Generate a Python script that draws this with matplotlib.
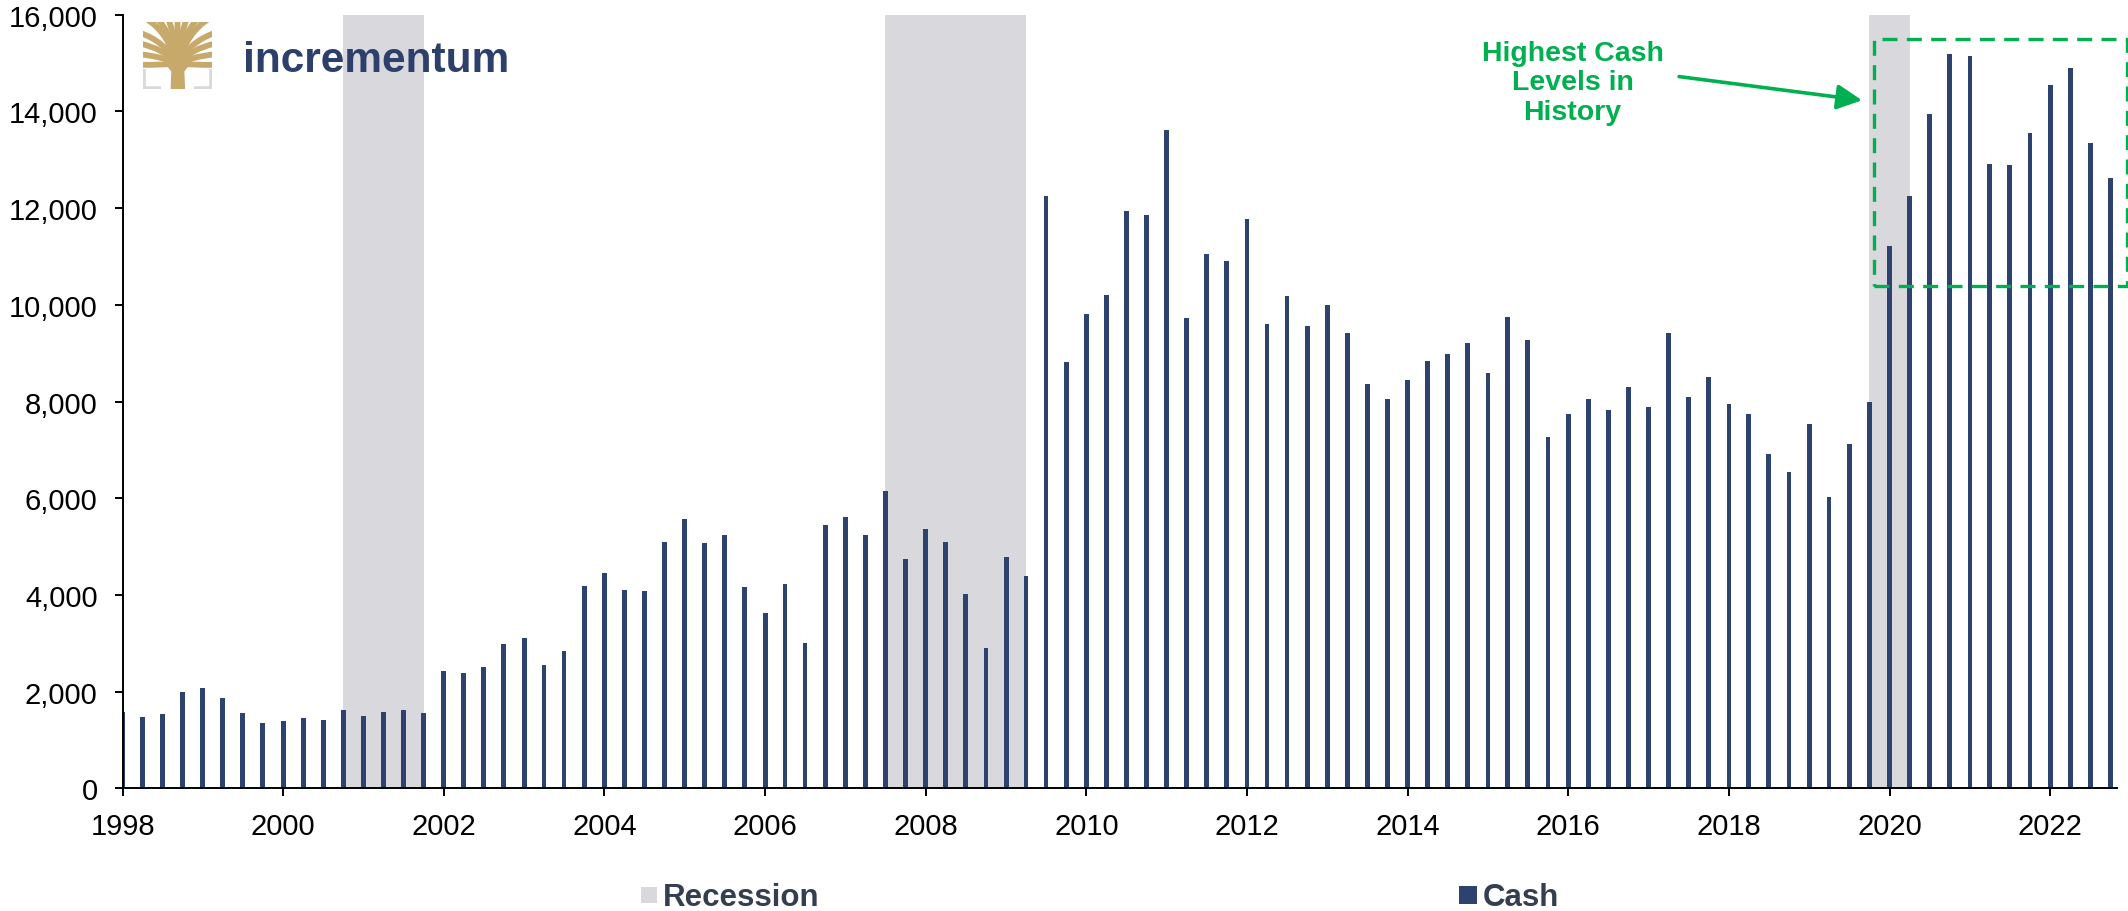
import pandas as pd
import matplotlib
matplotlib.use('Agg')
from matplotlib import pyplot as plt
import matplotlib.dates as mdates
from matplotlib.patches import Rectangle, Polygon
from matplotlib.path import Path
from matplotlib.patches import PathPatch
from matplotlib.ticker import FuncFormatter, MultipleLocator


# quarterly cash holdings, 1998Q1 .. 2022Q4
quarters = pd.date_range('1998-01-01', '2022-10-01', freq='QS')
cash = [1570, 1480, 1540, 2000,
        2080, 1860, 1550, 1350,
        1400, 1460, 1410, 1610,
        1490, 1570, 1630, 1550,
        2420, 2390, 2500, 2980,
        3100, 2550, 2840, 4180,
        4460, 4100, 4080, 5100,
        5570, 5070, 5240, 4160,
        3630, 4220, 3010, 5450,
        5610, 5230, 6150, 4750,
        5360, 5100, 4020, 2900,
        4790, 4400, 12260, 8820,
        9820, 10210, 11940, 11860,
        13610, 9720, 11060, 10900,
        11780, 9610, 10180, 9570,
        10000, 9420, 8370, 8060,
        8450, 8840, 8990, 9200,
        8590, 9740, 9280, 7260,
        7740, 8060, 7820, 8290,
        7880, 9410, 8100, 8500,
        7940, 7740, 6910, 6550,
        7540, 6030, 7120, 7980,
        11210, 12250, 13940, 15180,
        15140, 12910, 12900, 13550,
        14550, 14900, 13340, 12630]

recessions = [('2000-10-01', '2001-10-01'),
              ('2007-07-01', '2009-04-01'),
              ('2019-10-01', '2020-04-01')]

legend_labels = ['Recession', 'Cash']

navy = '#2E4270'
grey = '#D9D8DC'
green = '#00B050'
gold = '#C6A96B'
legend_col = '#333F50'

plt.rcParams['font.family'] = ['Liberation Sans', 'DejaVu Sans']

W, H = 2128, 912
fig = plt.figure(figsize=(W / 100, H / 100), dpi=100)
ax = fig.add_axes([0.0576, 0.1345, 0.9372, 0.8483])

for start, end in recessions:
    ax.axvspan(pd.Timestamp(start), pd.Timestamp(end), color=grey, lw=0, zorder=0)

ax.bar(quarters, cash, width=22, color=navy, zorder=2)

ax.set_xlim(pd.Timestamp('1998-01-01'), pd.Timestamp('2022-10-31'))
ax.set_ylim(0, 16000)
ax.yaxis.set_major_locator(MultipleLocator(2000))
ax.yaxis.set_major_formatter(FuncFormatter(lambda v, p: f'{v:,.0f}'))
ax.xaxis.set_major_locator(mdates.YearLocator(2))
ax.xaxis.set_major_formatter(mdates.DateFormatter('%Y'))

ax.spines['top'].set_visible(False)
ax.spines['right'].set_visible(False)
ax.spines['left'].set_linewidth(1.4)
ax.spines['bottom'].set_linewidth(1.4)
ax.spines['bottom'].set_zorder(4)
ax.tick_params(axis='both', labelsize=21, width=1.4, length=6)
ax.tick_params(axis='y', pad=12)
ax.tick_params(axis='x', pad=11)

# callout for the post-2020 cash pile
x0 = mdates.date2num(pd.Timestamp('2019-10-23'))
x1 = mdates.date2num(pd.Timestamp('2022-12-14'))
box = Rectangle((x0, 10380), x1 - x0, 15500 - 10380, fill=False, ec=green,
                lw=2.4, ls=(0, (4.5, 2.8)), clip_on=False, zorder=3)
ax.add_patch(box)
ax.annotate('', xy=(pd.Timestamp('2019-08-29'), 14230),
            xytext=(pd.Timestamp('2017-05-19'), 14720),
            arrowprops=dict(arrowstyle='-|>', color=green, lw=2.6,
                            mutation_scale=38, shrinkA=0, shrinkB=0))
ax.text(pd.Timestamp('2016-01-20'), 14600, 'Highest Cash\nLevels in\nHistory',
        ha='center', va='center', color=green, fontsize=20.5, fontweight='bold',
        linespacing=1.17)

# legend along the bottom edge
legend_items = [(legend_labels[0], grey, 641, 16), (legend_labels[1], navy, 1459, 18)]
for label, col, px, size in legend_items:
    fig.patches.append(Rectangle((px / W, 1 - (895.5 + size / 2) / H), size / W, size / H,
                                 transform=fig.transFigure, color=col, lw=0))
    fig.text((px + size + 6) / W, 1 - 906.5 / H, label, fontsize=22.5,
             fontweight='bold', color=legend_col, va='baseline', ha='left')

# logo: tree icon + wordmark
icon = fig.add_axes([143 / W, 1 - 90 / H, 69 / W, 67 / H])
icon.set_xlim(0, 1)
icon.set_ylim(0, 1)
icon.axis('off')
icon.add_patch(Polygon([(0.40, 0), (0.61, 0), (0.60, 0.26), (0.74, 0.46),
                        (0.26, 0.46), (0.41, 0.26)], color=gold, lw=0))
ends = [(-0.05, 0.36), (-0.05, 0.52), (-0.05, 0.68), (-0.05, 0.84),
        (0.04, 1.05), (0.20, 1.05), (0.36, 1.05), (0.50, 1.05), (0.64, 1.05),
        (0.80, 1.05), (0.96, 1.05), (1.05, 0.84), (1.05, 0.68), (1.05, 0.52),
        (1.05, 0.36)]
for ex, ey in ends:
    cx = 0.5 + (ex - 0.5) * 0.35
    cy = 0.35 + (ey - 0.35) * 0.75
    p = Path([(0.5, 0.38), (cx, cy), (ex, ey)],
             [Path.MOVETO, Path.CURVE3, Path.CURVE3])
    icon.add_patch(PathPatch(p, fill=False, ec=gold, lw=4.2, capstyle='butt'))
icon.plot([0.02, 0.02, 0.26], [0.30, 0.02, 0.02], color=grey, lw=2.6,
          solid_capstyle='butt')
icon.plot([0.74, 0.98, 0.98], [0.02, 0.02, 0.30], color=grey, lw=2.6,
          solid_capstyle='butt')

fig.text(243 / W, 1 - 71.7 / H, 'incrementum', fontsize=30.5,
         fontweight='bold', color='#2D3F6B', va='baseline', ha='left')

plt.savefig('out.png', dpi=100)
